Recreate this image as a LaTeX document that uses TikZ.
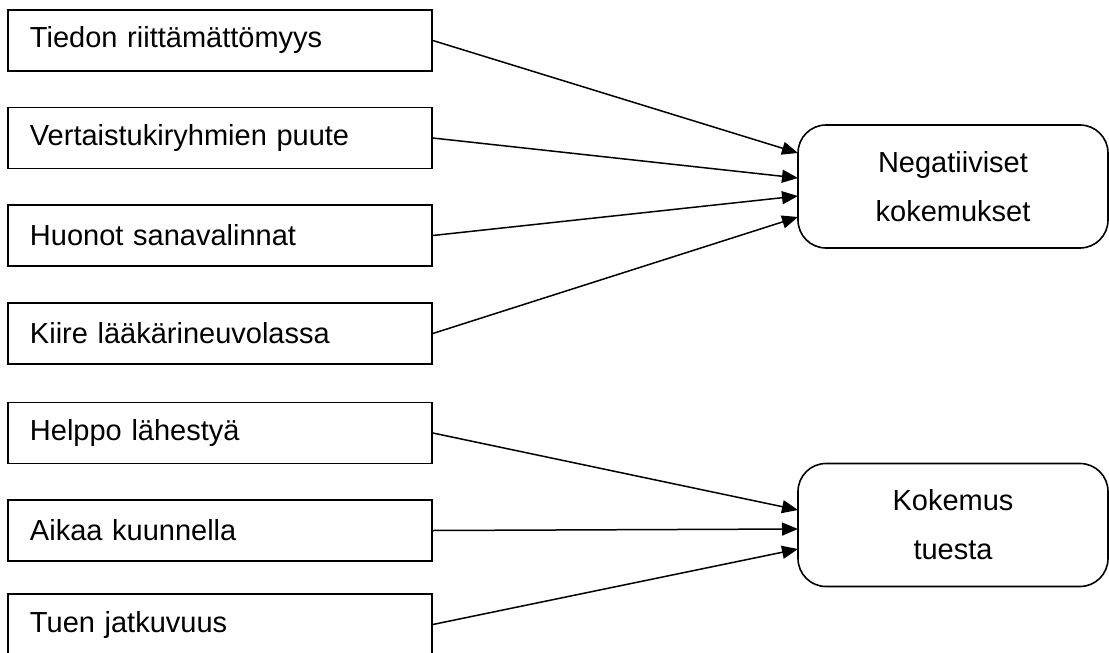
\documentclass[tikz,border=0pt]{standalone}
\usepackage{fontspec}
\setmainfont{Liberation Sans}
\usetikzlibrary{arrows.meta}
\begin{document}
\begin{tikzpicture}[x=1pt,y=-1pt,
  cause/.style={draw, line width=1.6pt, rectangle, minimum width=424pt, minimum height=61pt,
    text width=380pt, inner xsep=22pt, inner ysep=0pt, align=left,
    font=\fontsize{29}{35}\selectfont},
  outcome/.style={draw, line width=1.6pt, rectangle, rounded corners=28pt,
    minimum width=310pt, minimum height=123pt, align=center,
    font=\fontsize{29}{49}\selectfont},
  link/.style={line width=1.5pt, -{Triangle[length=16pt,width=13pt]}}]
\useasboundingbox (0,0) rectangle (1109,653);

% causes on the left
\node[cause] (c1) at (220,40.5) {Tiedon riittämättömyys};
\node[cause] (c2) at (220,138) {Vertaistukiryhmien puute};
\node[cause] (c3) at (220,235.5) {Huonot sanavalinnat};
\node[cause] (c4) at (220,333.5) {Kiire lääkärineuvolassa};
\node[cause] (c5) at (220,433) {Helppo lähestyä};
\node[cause] (c6) at (220,530.5) {Aikaa kuunnella};
\node[cause] (c7) at (220,624.5) {Tuen jatkuvuus};

% outcomes on the right
\node[outcome] (neg) at (953,186.5) {Negatiiviset\\kokemukset};
\node[outcome] (kok) at (953,525) {Kokemus\\tuesta};

% arrow targets along the left edges of the outcomes
\coordinate (n1) at (798,153);
\coordinate (n2) at (798,178);
\coordinate (n3) at (798,196);
\coordinate (n4) at (798,217);
\coordinate (k1) at (798,510);
\coordinate (k2) at (798,529);
\coordinate (k3) at (798,549);

\draw[link] (c1.east) -- (n1);
\draw[link] (c2.east) -- (n2);
\draw[link] (c3.east) -- (n3);
\draw[link] (c4.east) -- (n4);
\draw[link] (c5.east) -- (k1);
\draw[link] (c6.east) -- (k2);
\draw[link] (c7.east) -- (k3);
\end{tikzpicture}
\end{document}
